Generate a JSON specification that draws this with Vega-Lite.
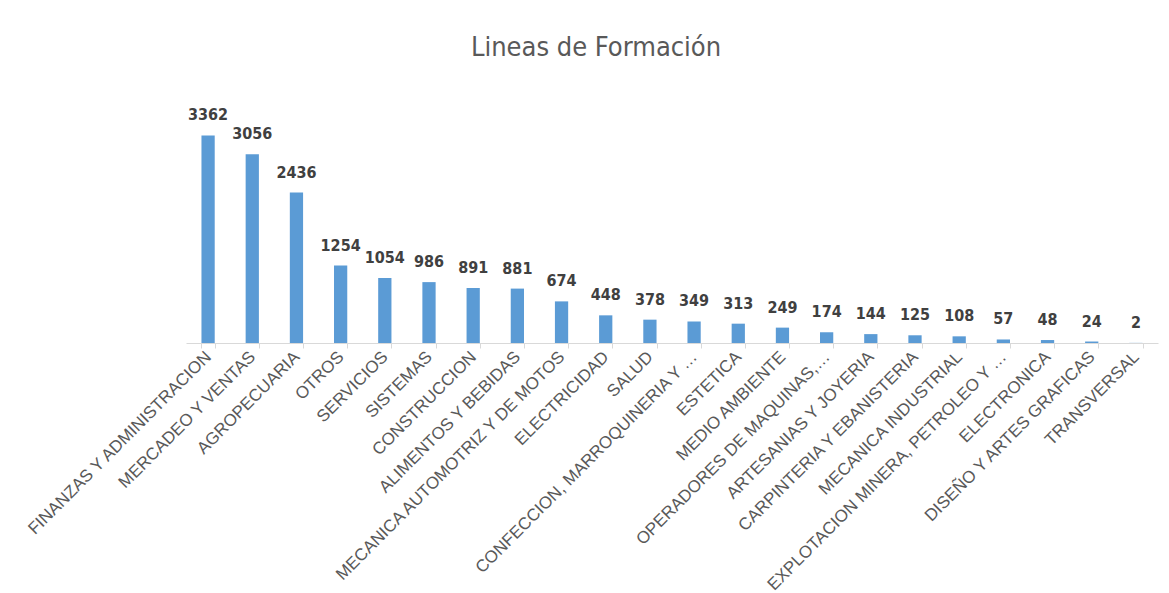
{
  "$schema": "https://vega.github.io/schema/vega-lite/v6.json",
  "width": 972,
  "height": 247,
  "autosize": {"type": "none"},
  "padding": {"left": 186, "top": 96, "right": 11, "bottom": 250},
  "background": "white",
  "title": {
    "text": "Lineas de Formación",
    "fontSize": 27,
    "font": "DejaVu Sans Condensed, Roboto",
    "fontWeight": "normal",
    "color": "#595959",
    "anchor": "middle",
    "offset": 34,
    "dx": -76
  },
  "data": {
    "values": [
      {"linea": "FINANZAS Y ADMINISTRACION", "total": 3362},
      {"linea": "MERCADEO Y VENTAS", "total": 3056},
      {"linea": "AGROPECUARIA", "total": 2436},
      {"linea": "OTROS", "total": 1254},
      {"linea": "SERVICIOS", "total": 1054},
      {"linea": "SISTEMAS", "total": 986},
      {"linea": "CONSTRUCCION", "total": 891},
      {"linea": "ALIMENTOS Y BEBIDAS", "total": 881},
      {"linea": "MECANICA AUTOMOTRIZ Y DE MOTOS", "total": 674},
      {"linea": "ELECTRICIDAD", "total": 448},
      {"linea": "SALUD", "total": 378},
      {"linea": "CONFECCION, MARROQUINERIA Y …", "total": 349},
      {"linea": "ESTETICA", "total": 313},
      {"linea": "MEDIO AMBIENTE", "total": 249},
      {"linea": "OPERADORES DE MAQUINAS,…", "total": 174},
      {"linea": "ARTESANIAS Y JOYERIA", "total": 144},
      {"linea": "CARPINTERIA Y EBANISTERIA", "total": 125},
      {"linea": "MECANICA INDUSTRIAL", "total": 108},
      {"linea": "EXPLOTACION MINERA, PETROLEO Y …", "total": 57},
      {"linea": "ELECTRONICA", "total": 48},
      {"linea": "DISEÑO Y ARTES GRAFICAS", "total": 24},
      {"linea": "TRANSVERSAL", "total": 2}
    ]
  },
  "encoding": {
    "x": {
      "field": "linea",
      "type": "nominal",
      "sort": null,
      "title": null,
      "scale": {"paddingInner": 0.7, "paddingOuter": 0.35},
      "axis": {
        "labelAngle": -45,
        "labelAlign": "right",
        "labelBaseline": "middle",
        "labelFont": "Liberation Sans, Arial",
        "labelFontSize": 17,
        "labelColor": "#595959",
        "labelPadding": 6,
        "labelLimit": 400,
        "labelOverlap": false,
        "domainColor": "#d9d9d9",
        "tickColor": "#d9d9d9",
        "tickBand": "extent",
        "tickSize": 5,
        "domainWidth": 1
      }
    },
    "y": {
      "field": "total",
      "type": "quantitative",
      "scale": {"domain": [0, 4000]},
      "axis": null
    }
  },
  "layer": [
    {"mark": {"type": "bar", "color": "#5B9BD5"}},
    {
      "mark": {
        "type": "text",
        "dy": -20,
        "font": "DejaVu Sans Condensed, Roboto",
        "fontWeight": "bold",
        "fontSize": 16,
        "color": "#404040"
      },
      "encoding": {"text": {"field": "total", "type": "quantitative"}}
    }
  ],
  "config": {"view": {"stroke": null}}
}
